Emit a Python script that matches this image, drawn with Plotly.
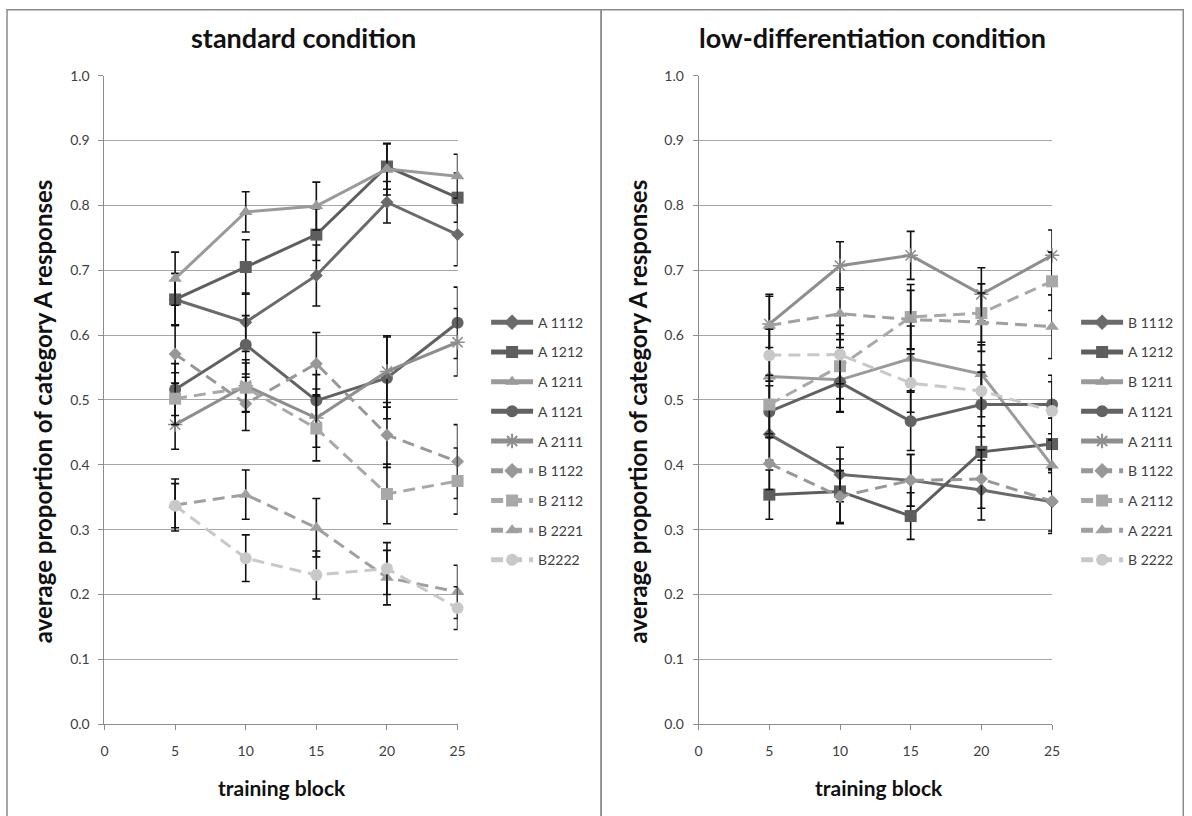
import plotly.graph_objects as go

blocks = [5, 10, 15, 20, 25]

# ---- standard condition ----
std_names = ["A 1112", "A 1212", "A 1211", "A 1121", "A 2111", "B 1122", "B 2112", "B 2221", "B2222"]
std_vals = [
    [0.655, 0.620, 0.692, 0.805, 0.755],
    [0.655, 0.705, 0.755, 0.860, 0.812],
    [0.687, 0.790, 0.799, 0.856, 0.845],
    [0.516, 0.585, 0.499, 0.534, 0.619],
    [0.462, 0.522, 0.472, 0.544, 0.589],
    [0.571, 0.494, 0.556, 0.446, 0.405],
    [0.502, 0.519, 0.456, 0.355, 0.375],
    [0.338, 0.354, 0.303, 0.226, 0.204],
    [0.337, 0.256, 0.230, 0.240, 0.179],
]
std_err = [
    [0.040, 0.045, 0.047, 0.032, 0.048],
    [0.040, 0.042, 0.040, 0.035, 0.038],
    [0.041, 0.031, 0.037, 0.040, 0.034],
    [0.040, 0.045, 0.040, 0.063, 0.055],
    [0.038, 0.040, 0.045, 0.055, 0.052],
    [0.045, 0.041, 0.048, 0.050, 0.057],
    [0.040, 0.038, 0.050, 0.046, 0.051],
    [0.040, 0.038, 0.045, 0.042, 0.041],
    [0.034, 0.036, 0.037, 0.040, 0.033],
]

# ---- low-differentiation condition ----
low_names = ["B 1112", "A 1212", "B 1211", "A 1121", "A 2111", "B 1122", "A 2112", "A 2221", "B 2222"]
low_vals = [
    [0.447, 0.385, 0.376, 0.361, 0.343],
    [0.354, 0.359, 0.321, 0.420, 0.432],
    [0.536, 0.531, 0.564, 0.540, 0.399],
    [0.482, 0.527, 0.467, 0.493, 0.493],
    [0.617, 0.707, 0.723, 0.663, 0.723],
    [0.402, 0.351, 0.376, 0.378, 0.344],
    [0.493, 0.552, 0.628, 0.634, 0.683],
    [0.615, 0.633, 0.624, 0.620, 0.613],
    [0.569, 0.570, 0.526, 0.514, 0.483],
]
low_err = [
    [0.040, 0.042, 0.040, 0.046, 0.045],
    [0.038, 0.050, 0.036, 0.040, 0.040],
    [0.045, 0.050, 0.050, 0.045, 0.040],
    [0.040, 0.045, 0.045, 0.050, 0.045],
    [0.046, 0.037, 0.037, 0.041, 0.039],
    [0.040, 0.040, 0.040, 0.045, 0.050],
    [0.045, 0.050, 0.050, 0.045, 0.045],
    [0.045, 0.040, 0.045, 0.045, 0.049],
    [0.040, 0.045, 0.045, 0.040, 0.045],
]

# styles per series position (same in both panels)
colors = ["#6a6a6a", "#5e5e5e", "#9a9a9a", "#626262", "#8e8e8e", "#989898", "#a8a8a8", "#a0a0a0", "#c8c8c8"]
symbols = ["diamond", "square", "triangle-up", "circle", "asterisk-open", "diamond", "square", "triangle-up", "circle"]
sizes = [10, 12, 12, 12, 12, 10, 12, 12, 12]
dashes = ["solid"] * 5 + ["12px,7px"] * 4

FONT = "Lato"
W, H = 1192, 816
# observed page mapping: screen_x ~ 4 + 0.988*fig_x, screen_y ~ 7.5 + 0.98*fig_y
SX, OX, SY, OY = 0.988, 4.0, 0.98, 7.5


def px(xs):
    return min(max((xs - OX) / SX, 0.75), W - 0.75) / W


def py(ys):
    return 1 - min(max((ys - OY) / SY, 0.75), H - 0.75) / H


fig = go.Figure()


def add_panel(names, vals, errs, xa, ya, legend):
    for i, (n, v, e) in enumerate(zip(names, vals, errs)):
        marker = dict(symbol=symbols[i], size=sizes[i], color=colors[i])
        if symbols[i].startswith("asterisk"):
            marker["line"] = dict(color=colors[i], width=1.5)
        fig.add_trace(go.Scatter(
            x=blocks, y=v, name=n, mode="lines+markers",
            line=dict(color=colors[i], width=3, dash=dashes[i]),
            marker=marker,
            error_y=dict(type="data", array=e, visible=True, color="#111111", thickness=1.6, width=4),
            xaxis=xa, yaxis=ya, legend=legend, legendgroup=legend + str(i),
            cliponaxis=False,
        ))


add_panel(std_names, std_vals, std_err, "x", "y", "legend")
add_panel(low_names, low_vals, low_err, "x2", "y2", "legend2")

axis_common = dict(
    showline=True, linecolor="#8c8c8c", linewidth=1,
    ticks="outside", ticklen=5, tickcolor="#8c8c8c",
    tickfont=dict(family=FONT, size=14, color="#404040"),
    zeroline=False,
)
xcommon = dict(axis_common, range=[0, 25], tickvals=[0, 5, 10, 15, 20, 25], showgrid=False,
               ticklabelstandoff=9)
ycommon = dict(axis_common, range=[0, 1], tickvals=[i / 10 for i in range(11)], tickformat=".1f",
               showgrid=True, gridcolor="#a6a6a6", gridwidth=1, ticklabelstandoff=6)

legend_common = dict(xanchor="left", yanchor="top", font=dict(family=FONT, size=14, color="#404040"),
                     tracegroupgap=8.5, itemsizing="constant", itemwidth=42, bgcolor="rgba(0,0,0,0)")

fig.update_layout(
    width=W, height=H,
    margin=dict(l=0, r=0, t=0, b=0),
    paper_bgcolor="white", plot_bgcolor="white",
    font=dict(family=FONT, color="#404040"),
    xaxis=dict(xcommon, domain=[px(104.3), px(456.7)], anchor="y"),
    yaxis=dict(ycommon, domain=[py(723.3), py(74.3)], anchor="x"),
    xaxis2=dict(xcommon, domain=[px(697.3), px(1050)], anchor="y2"),
    yaxis2=dict(ycommon, domain=[py(723.3), py(74.3)], anchor="x2"),
    legend=dict(legend_common, x=487 / W, y=1 - 304 / H),
    legend2=dict(legend_common, x=1083 / W, y=1 - 304 / H),
    showlegend=True,
)

ann = []
title_font = dict(family=FONT, size=27, color="#111111")
xt_font = dict(family=FONT, size=21, color="#111111")
yt_font = dict(family=FONT, size=24, color="#111111")
ann.append(dict(text="<b>standard condition</b>", x=px(303), y=py(36), xref="paper", yref="paper",
                showarrow=False, font=title_font, xanchor="center", yanchor="middle"))
ann.append(dict(text="<b>low-differentiation condition</b>", x=px(871), y=py(36), xref="paper", yref="paper",
                showarrow=False, font=title_font, xanchor="center", yanchor="middle"))
for cx in (281, 877):
    ann.append(dict(text="<b>training block</b>", x=px(cx), y=py(787), xref="paper", yref="paper",
                    showarrow=False, font=xt_font, xanchor="center", yanchor="middle"))
for cx in (42, 636):
    ann.append(dict(text="<b>average proportion of category A responses</b>", x=px(cx), y=py(410),
                    xref="paper", yref="paper", showarrow=False, font=yt_font, textangle=-90,
                    xanchor="center", yanchor="middle"))
fig.update_layout(annotations=ann)

# panel borders
shapes = []
for x0, x1 in ((7, 600), (600, 1190)):
    shapes.append(dict(type="rect", xref="paper", yref="paper", x0=px(x0), x1=px(x1), y0=-0.02,
                       y1=py(5), line=dict(color="#8a8a8a", width=1.5),
                       fillcolor="rgba(0,0,0,0)", layer="below"))
fig.update_layout(shapes=shapes)

fig.write_html("out.html")
